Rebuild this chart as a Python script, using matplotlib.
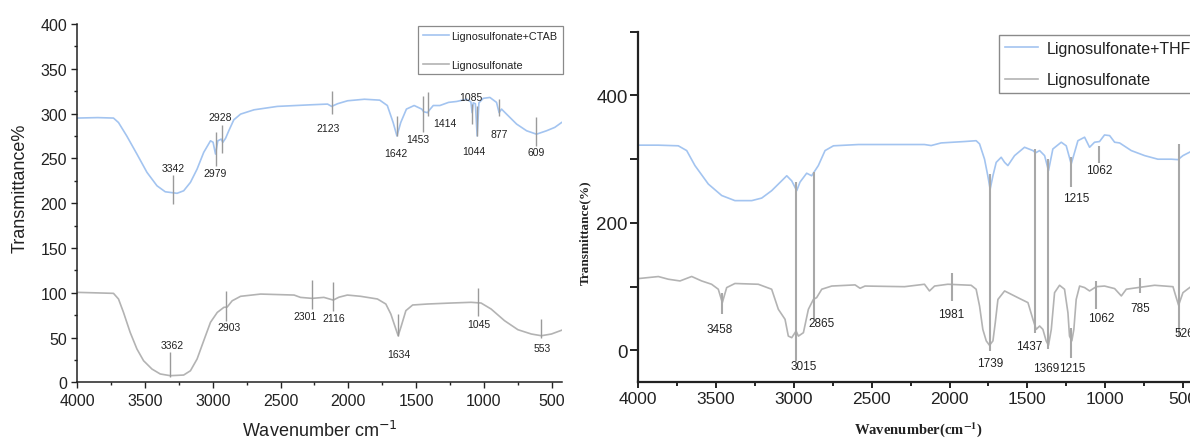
import matplotlib
matplotlib.use('Agg')
import matplotlib.pyplot as plt
from matplotlib.ticker import MultipleLocator

# ---------------- Left panel data ----------------
ctab_wn = [4000, 3850, 3733, 3696, 3635, 3560, 3486, 3412, 3351, 3264, 3215, 3165, 3116, 3067,
           3017, 2998, 2980, 2963, 2938, 2926, 2906, 2882, 2845, 2795, 2696, 2524, 2277, 2153,
           2123, 2079, 2005, 1881, 1768, 1712, 1669, 1641, 1613, 1571, 1514, 1458, 1443, 1415,
           1401, 1373, 1324, 1260, 1201, 1127, 1095, 1086, 1078, 1062, 1049, 1036, 1004, 955,
           906, 887, 869, 832, 758, 684, 611, 537, 476, 426]
ctab_t = [295, 295.5, 295, 290, 275, 254.8, 234.4, 219.4, 212.7, 211, 213.8, 223.2, 238, 256.7,
          269.6, 268, 254.8, 269.6, 271.5, 267.9, 272.3, 280.8, 293, 299.4, 304.2, 308, 309.8, 310.6,
          308, 311, 314.3, 316, 315, 309, 290, 275, 290, 305, 309, 305, 302, 301,
          304, 309, 309, 312.5, 313.5, 316, 313, 301, 312, 311, 275, 312, 317, 318,
          312.5, 301, 305, 299.4, 288.3, 280.8, 277, 280.8, 284.6, 290]

ligL_wn = [4000, 3850, 3733, 3696, 3659, 3610, 3560, 3511, 3449, 3388, 3314, 3215, 3165, 3116,
           3067, 3017, 2967, 2918, 2894, 2857, 2795, 2647, 2400, 2353, 2267, 2180, 2111, 2069,
           2007, 1909, 1785, 1723, 1686, 1649, 1632, 1612, 1575, 1525, 1415, 1242, 1094, 1020,
           946, 847, 748, 649, 575, 501, 415]
ligL_t = [100.4, 99.8, 99.3, 93, 78, 55.8, 37.2, 24.1, 14.8, 9.3, 7.4, 8.1, 12.9, 26,
          46.4, 67, 78, 83.7, 84, 91, 96, 98.5, 97.4, 94.8, 93.7, 94.8, 91.8, 95,
          97.4, 96, 93, 87.4, 76.2, 59.5, 52, 61.4, 80, 86.3, 87.4, 88.5, 89.3, 88.5,
          81.8, 68.8, 58.7, 53.9, 52, 53.9, 58.7]

# peak annotations (left): text, marker x, marker bottom, marker top, label x, label y
annL_text = ['3342', '2979', '2928', '2123', '1642', '1453', '1414', '1085', '1044', '877', '609',
             '3362', '2903', '2301', '2116', '1634', '1045', '553']
annL_x = [3296, 2980, 2931, 2123, 1641, 1452, 1415, 1086, 1049, 887, 611,
          3319, 2901, 2269, 2111, 1632, 1040, 575]
annL_y0 = [199, 241.7, 256, 299, 275, 279, 297.6, 288, 275, 297.6, 264,
           5.6, 68.8, 81.8, 80, 52, 73.7, 49]
annL_y1 = [231.4, 279, 287, 325, 297.6, 320, 323.6, 310.6, 309, 316, 296,
           33.5, 102, 114, 111.6, 76.2, 105, 70.6]
annL_tx = [3290, 2985, 2948, 2148, 1652, 1484, 1290, 1092, 1072, 890, 616,
           3300, 2881, 2318, 2111, 1629, 1038, 570]
annL_ty = [238.8, 233.6, 295.7, 283.5, 255.5, 271.5, 290, 319, 257.7, 277, 256.6,
           41.6, 61.4, 73.6, 71.4, 31.6, 65, 38]

# ---------------- Right panel data ----------------
thf_wn = [4000, 3871, 3743, 3689, 3636, 3550, 3464, 3379, 3271, 3207, 3143, 3079, 3046, 3014,
          2982, 2961, 2918, 2886, 2843, 2800, 2746, 2586, 2289, 2161, 2118, 2054, 1904, 1829,
          1807, 1775, 1754, 1739, 1721, 1700, 1668, 1646, 1625, 1582, 1518, 1464, 1447, 1421,
          1389, 1364, 1336, 1282, 1250, 1218, 1196, 1175, 1132, 1100, 1068, 1036, 1004, 971,
          939, 907, 832, 746, 661, 575, 532, 500, 457]
thf_t = [322, 322, 321, 313.5, 290, 261, 243, 235, 235, 239, 250.6, 266, 274, 266,
         250.6, 264, 278, 274, 290, 313.5, 321, 323, 323, 323, 321.4, 325.5, 327.7, 329,
         324, 300, 274, 253, 274, 295, 303, 295, 290, 305.6, 318.7, 313.5, 310, 313.5,
         305.6, 282, 316, 326.6, 321, 292.5, 311, 329, 334.5, 318.7, 326.6, 327.7, 338, 337,
         326.6, 325.5, 313.5, 305.6, 300, 300, 299.3, 305.6, 311]

ligR_wn = [4000, 3871, 3807, 3732, 3657, 3593, 3529, 3486, 3460, 3432, 3379, 3229, 3143, 3100,
           3057, 3036, 3014, 2986, 2971, 2939, 2907, 2875, 2854, 2821, 2757, 2607, 2575, 2543,
           2289, 2161, 2129, 2096, 2011, 1861, 1829, 1807, 1786, 1764, 1743, 1721, 1706, 1689,
           1646, 1561, 1496, 1464, 1443, 1421, 1400, 1379, 1364, 1346, 1325, 1293, 1261, 1239,
           1229, 1214, 1201, 1186, 1164, 1132, 1100, 1057, 1004, 939, 896, 864, 789, 682,
           564, 543, 528, 500, 457]
ligR_t = [112.7, 115.9, 111.7, 109, 116, 109, 103.8, 96, 75, 98.6, 105, 103.8, 96, 64.5,
          48.8, 22.5, 20, 30.4, 22.5, 27.8, 64.5, 80, 82.8, 96, 101, 102.8, 97.5, 101,
          100, 103.8, 93.3, 101, 103.8, 102.2, 96, 69.7, 33, 15, 8, 15, 43.5, 80,
          93.3, 82.8, 75, 48.8, 33, 38.3, 33, 15, 8, 33, 90.6, 102.2, 96, 59,
          22.5, 15, 33, 80, 101, 98.6, 93.3, 100, 101, 97, 85.5, 96, 98.6, 102.2,
          100, 82.8, 71, 90.6, 98.6]

annR_text = ['3458', '3015', '2865', '1981', '1739', '1437', '1369', '1215', '1062',
             '1215', '1062', '785', '526']
annR_x = [3460, 2986, 2871, 1983, 1740, 1449, 1368, 1218, 1040, 1218, 1057, 776, 528]
annR_y0 = [56.6, -16.8, 48.8, 77.6, -1, 27.8, 1.6, 255.8, 294, -11.5, 64.5, 90.7, 22.5]
annR_y1 = [90.7, 263.7, 279.4, 122, 276.8, 316, 300, 303, 321, 35.6, 109, 114, 324]
annR_tx = [3479, 2940, 2821, 1990, 1736, 1486, 1382, 1186, 1036, 1212, 1025, 776, 490]
annR_ty = [34, -24.6, 42.5, 56.6, -19.4, 6.8, -27.3, 238.5, 283.6, -27.3, 51.4, 67, 27.8]

BLUE = '#a3c4f0'
GRAY = '#b3b3b3'
TXT = '#222222'

fig = plt.figure(figsize=(11.9, 4.39), dpi=100)
W, H = 1190.0, 439.0
axL = fig.add_axes([77.3 / W, (H - 383.3) / H, 484.4 / W, 358.3 / H])
axR = fig.add_axes([638.3 / W, (H - 383.3) / H, 560.2 / W, 350.6 / H])

# ---------------- Left panel ----------------
axL.plot(ctab_wn, ctab_t, color=BLUE, lw=1.2, label='Lignosulfonate+CTAB')
axL.plot(ligL_wn, ligL_t, color=GRAY, lw=1.2, label='Lignosulfonate')
axL.vlines(annL_x, annL_y0, annL_y1, color='#9a9a9a', lw=1.0)
for t, x, y in zip(annL_text, annL_tx, annL_ty):
    axL.text(x, y, t, ha='center', va='center', fontsize=7.5, color=TXT,
             family='Liberation Sans')
axL.set_xlim(4000, 425)
axL.set_ylim(0, 400)
axL.xaxis.set_major_locator(MultipleLocator(500))
axL.xaxis.set_minor_locator(MultipleLocator(250))
axL.yaxis.set_major_locator(MultipleLocator(50))
axL.yaxis.set_minor_locator(MultipleLocator(25))
for s in ['top', 'right']:
    axL.spines[s].set_visible(False)
for s in ['left', 'bottom']:
    axL.spines[s].set_linewidth(1.1)
    axL.spines[s].set_color('#222222')
axL.tick_params(which='both', direction='out', color='#222222', width=1.0,
                labelcolor=TXT, labelsize=11.5, pad=3)
axL.tick_params(which='major', length=4.5)
axL.tick_params(which='minor', length=2.5)
for lab in axL.get_xticklabels() + axL.get_yticklabels():
    lab.set_family('Liberation Sans')
axL.set_ylabel('Transmittance%', fontsize=13, family='Liberation Sans', color=TXT, labelpad=8)
axL.yaxis.label.set_y(0.545)
axL.set_xlabel('Wavenumber cm$^{-1}$', fontsize=13, family='Liberation Sans', color=TXT,
               labelpad=9, math_fontfamily='dejavusans')
legL = axL.legend(loc='upper left', bbox_to_anchor=(0.7034, 0.9936), borderaxespad=0,
                  prop={'family': 'Liberation Sans', 'size': 7.8}, labelspacing=1.7,
                  handlelength=2.4, handletextpad=0.25, borderpad=0.45, fancybox=False,
                  framealpha=1, edgecolor='#8a8a8a')
legL.get_frame().set_linewidth(0.9)
for t in legL.get_texts():
    t.set_color(TXT)

# ---------------- Right panel ----------------
axR.plot(thf_wn, thf_t, color=BLUE, lw=1.2, label='Lignosulfonate+THF')
axR.plot(ligR_wn, ligR_t, color=GRAY, lw=1.2, label='Lignosulfonate')
axR.vlines(annR_x, annR_y0, annR_y1, color='#a8a8a8', lw=1.5)
for t, x, y in zip(annR_text, annR_tx, annR_ty):
    axR.text(x, y, t, ha='center', va='center', fontsize=8.5, color=TXT,
             family='Liberation Sans')
axR.set_xlim(4000, 400)
axR.set_ylim(-50, 500)
axR.xaxis.set_major_locator(MultipleLocator(500))
axR.xaxis.set_minor_locator(MultipleLocator(250))
axR.yaxis.set_major_locator(MultipleLocator(200))
axR.yaxis.set_minor_locator(MultipleLocator(100))
for s in ['top', 'right']:
    axR.spines[s].set_visible(False)
for s in ['left', 'bottom']:
    axR.spines[s].set_linewidth(1.6)
    axR.spines[s].set_color('#222222')
axR.tick_params(which='both', direction='out', color='#222222', width=1.4,
                labelcolor=TXT, labelsize=12.5, pad=2)
axR.tick_params(axis='y', which='both', length=5.5, labelsize=13.5)
axR.tick_params(axis='x', which='major', length=4.5)
axR.tick_params(axis='x', which='minor', length=3)
for lab in axR.get_xticklabels() + axR.get_yticklabels():
    lab.set_family('Liberation Sans')
axR.set_ylabel('Transmittance(%)', fontsize=9.5, family='Liberation Serif',
               fontweight='bold', color=TXT, labelpad=4)
axR.yaxis.label.set_y(0.429)
axR.set_xlabel(r'Wavenumber(cm$^{\mathbf{-1}}$)', fontsize=10.5, family='Liberation Serif',
               fontweight='bold', color=TXT, labelpad=9, math_fontfamily='stix')
legR = axR.legend(loc='upper left', bbox_to_anchor=(0.6444, 0.9906), borderaxespad=0,
                  prop={'family': 'Liberation Sans', 'size': 11.5}, labelspacing=1.05,
                  handlelength=2.1, handletextpad=0.55, borderpad=0.35, fancybox=False,
                  framealpha=1, edgecolor='#8a8a8a')
legR.get_frame().set_linewidth(1.0)
for t in legR.get_texts():
    t.set_color(TXT)

fig.savefig('out.png', dpi=100)
